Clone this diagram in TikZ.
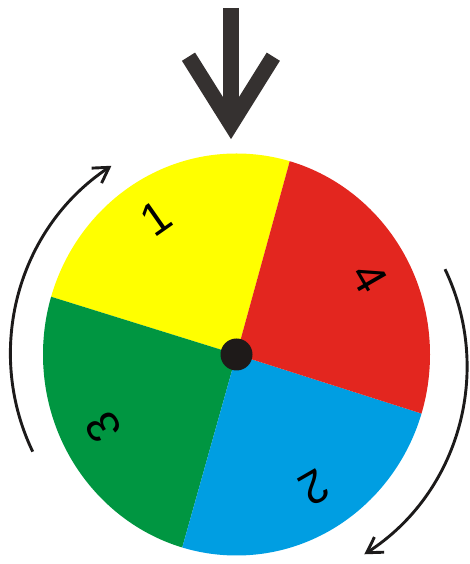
\documentclass[tikz,border=0pt]{standalone}
\usepackage{fontspec}
\newfontfamily\digitfont{Liberation Sans}
\usetikzlibrary{arrows.meta}
\definecolor{wyellow}{HTML}{FFFF00}
\definecolor{wred}{HTML}{E3261F}
\definecolor{wgreen}{HTML}{009641}
\definecolor{wblue}{HTML}{009EE2}
\definecolor{wdark}{HTML}{353130}
\definecolor{wdot}{HTML}{1E1A19}
\definecolor{warc}{HTML}{1C1A1A}
\begin{document}
\begin{tikzpicture}[x=1pt,y=1pt,
  digit/.style={font=\digitfont\fontsize{46}{46}\selectfont, inner sep=0pt, text=black},
  spinarrow/.style={draw=warc, line width=2.9pt, -{Straight Barb[length=15pt,width=18pt]}},
  pointer/.style={draw=wdark, line width=15.5pt, miter limit=10}]
\useasboundingbox (0,0) rectangle (469,564);
\coordinate (c) at (236.5,209.5);
% wheel
\begin{scope}
  \clip (c) ellipse [x radius=193.5pt, y radius=201pt];
  \fill[wyellow] (c) -- +(74.6:300) arc[start angle=74.6, end angle=162.7, radius=300pt] -- cycle;
  \fill[wgreen] (c) -- +(162.7:300) arc[start angle=162.7, end angle=254.3, radius=300pt] -- cycle;
  \fill[wblue] (c) -- +(254.3:300) arc[start angle=254.3, end angle=342.3, radius=300pt] -- cycle;
  \fill[wred] (c) -- +(-17.7:300) arc[start angle=-17.7, end angle=74.6, radius=300pt] -- cycle;
\end{scope}
\fill[wdot] (c) circle[radius=16pt];
% labels
\node[digit, rotate=35] (n1) at (156,346) {1};
\node[digit, rotate=-60] (n4) at (370,286) {4};
\node[digit, rotate=120] (n3) at (103,137) {3};
\node[digit, rotate=-150] (n2) at (314,76) {2};
% pointer
\coordinate (shafttop) at (231,556);
\coordinate (shaftbot) at (231,445);
\coordinate (armL) at (188.5,507.3);
\coordinate (vtx) at (231,439.5);
\coordinate (armR) at (273.3,507.3);
\draw[pointer] (shafttop) -- (shaftbot);
\draw[pointer] (armL) -- (vtx) -- (armR);
% rotation arrows
\draw[spinarrow, shift={(236.5,210)}] (205.6:226) arc[start angle=205.6, end angle=123.6, radius=226pt];
\draw[spinarrow, shift={(243,198)}] (25.6:224) arc[start angle=25.6, end angle=-57.2, radius=224pt];
\end{tikzpicture}
\end{document}
